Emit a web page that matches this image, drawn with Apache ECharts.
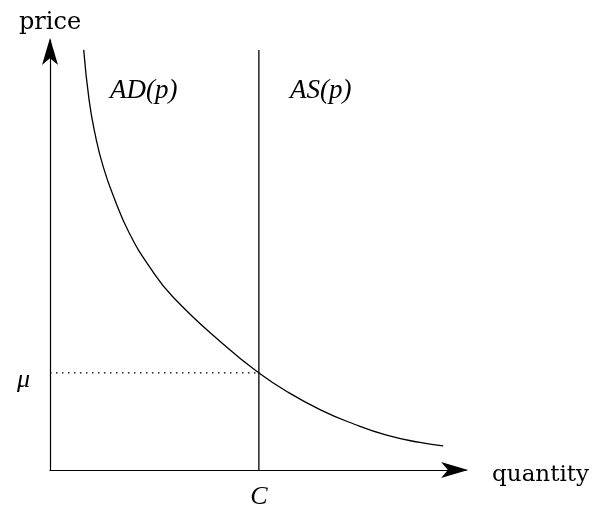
<!DOCTYPE html>
<html>
<head>
<meta charset="utf-8">
<script src="https://cdn.jsdelivr.net/npm/echarts@6/dist/echarts.min.js"></script>
<style>
  html, body { margin: 0; padding: 0; background: #fff; }
  #chart { width: 592px; height: 510px; }
</style>
</head>
<body>
<div id="chart"></div>
<script>
// demand curve AD(p) (quantity, price)
const demandQty = [0.81, 0.94, 1.08, 1.28, 1.56, 1.91, 2.39, 2.95, 4.23, 5.02, 5.70, 6.50, 7.30, 8.09, 8.89, 9.45]
const demandPrice = [9.77, 8.60, 7.83, 7.05, 6.28, 5.50, 4.73, 4.03, 2.87, 2.26, 1.82, 1.40, 1.07, 0.81, 0.64, 0.56]

// supply AS(p) is vertical at capacity C
const capacity = 5.02
const supplyTop = 9.77
const mu = 2.26

const xTicks = ['C']
const yTicks = ['μ']

const serif = '"DejaVu Serif", "Liberation Serif", serif'
const mathFont = '"Liberation Serif", "DejaVu Serif", serif'

const chart = echarts.init(document.getElementById('chart'))

chart.setOption({
  animation: false,
  backgroundColor: '#fff',
  grid: {
    left: 50,
    right: 124,
    top: 40,
    bottom: 40,
  },
  xAxis: {
    type: 'value',
    min: 0,
    max: 10,
    name: '{q|quantity}',
    nameLocation: 'end',
    nameGap: 26,
    nameTextStyle: {
      rich: {
        q: {
          fontFamily: serif,
          fontSize: 23,
          color: '#000',
          padding: [10, 0, 0, 0],
        },
      },
    },
    splitLine: { show: false },
    axisTick: { show: false },
    axisLine: {
      onZero: false,
      symbol: ['none', 'arrow'],
      symbolSize: [12, 27],
      symbolOffset: [0, 2],
      lineStyle: { color: '#000', width: 1.2 },
    },
    axisLabel: {
      customValues: [capacity],
      formatter: () => xTicks[0],
      margin: 14,
      fontFamily: mathFont,
      fontStyle: 'italic',
      fontSize: 26,
      color: '#000',
    },
  },
  yAxis: {
    type: 'value',
    min: 0,
    max: 10,
    name: 'price',
    nameLocation: 'end',
    nameGap: 5,
    nameTextStyle: {
      fontFamily: serif,
      fontSize: 24,
      color: '#000',
      align: 'center',
    },
    splitLine: { show: false },
    axisTick: { show: false },
    axisLine: {
      onZero: false,
      symbol: ['none', 'arrow'],
      symbolSize: [12, 27],
      symbolOffset: [0, 2],
      lineStyle: { color: '#000', width: 1.2 },
    },
    axisLabel: {
      customValues: [mu],
      formatter: () => '{m|' + yTicks[0] + '}',
      margin: 20,
      rich: {
        m: {
          fontFamily: mathFont,
          fontStyle: 'italic',
          fontSize: 26,
          color: '#000',
          padding: [14, 0, 0, 0],
        },
      },
    },
  },
  graphic: [
    {
      type: 'text',
      left: 110,
      top: 77,
      style: {
        text: 'AD(p)',
        font: 'italic 27px ' + mathFont,
        fill: '#000',
      },
    },
    {
      type: 'text',
      left: 290,
      top: 77,
      style: {
        text: 'AS(p)',
        font: 'italic 27px ' + mathFont,
        fill: '#000',
      },
    },
  ],
  series: [
    {
      name: 'AD(p)',
      type: 'line',
      smooth: 0.5,
      symbol: 'none',
      lineStyle: { color: '#000', width: 1.3 },
      data: demandQty.map((q, i) => [q, demandPrice[i]]),
    },
    {
      name: 'AS(p)',
      type: 'line',
      symbol: 'none',
      lineStyle: { color: '#000', width: 1.3 },
      data: [[capacity, 0], [capacity, supplyTop]],
    },
    {
      name: 'mu',
      type: 'line',
      symbol: 'none',
      lineStyle: { color: '#000', width: 1.3, type: [1.5, 4.5] },
      data: [[0, mu], [capacity, mu]],
    },
  ],
})
</script>
</body>
</html>
